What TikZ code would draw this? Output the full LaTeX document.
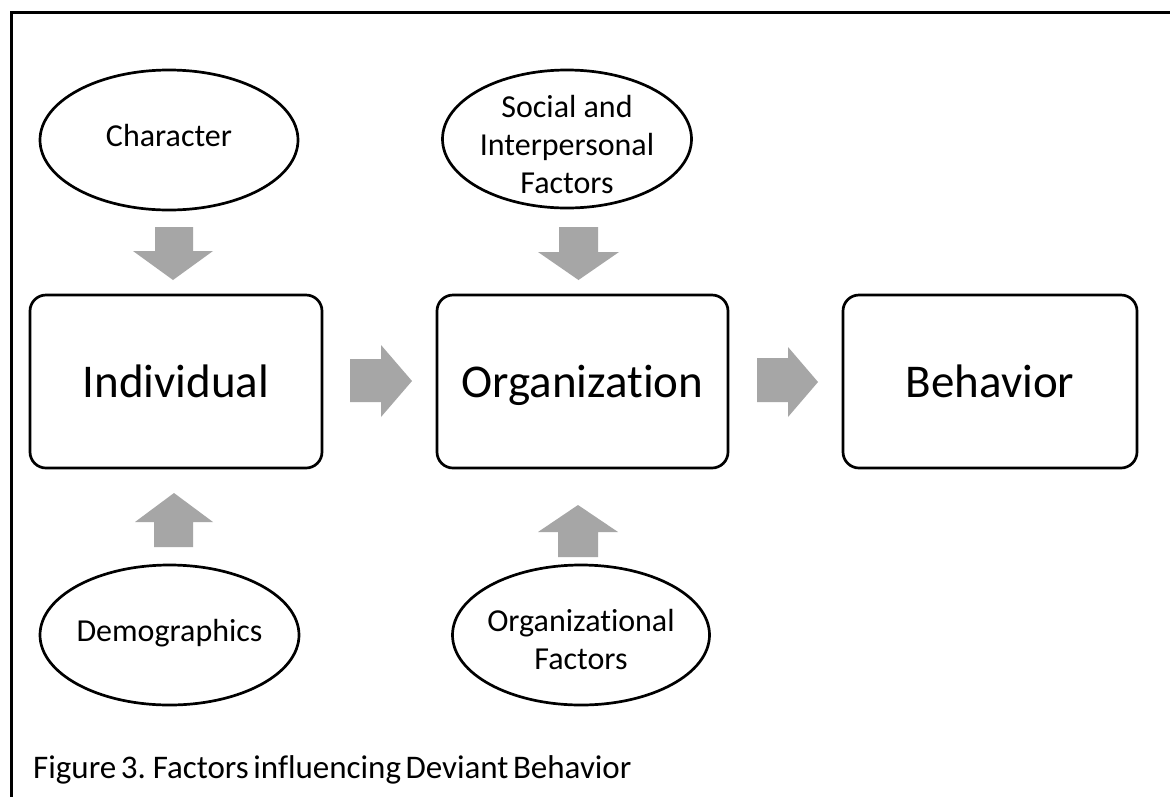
\documentclass[tikz,border=0pt]{standalone}
\usepackage{fontspec}
\setmainfont{Carlito}[Ligatures=NoCommon]
\usetikzlibrary{shapes.geometric}
\definecolor{arrowgray}{RGB}{166,166,166}
\tikzset{
  blockbox/.style={draw, line width=2.7pt, rectangle, rounded corners=16pt, minimum width=292pt, minimum height=173pt, inner sep=0pt, text height=32pt, text depth=0pt, font=\fontsize{47}{56}\selectfont},
  factor/.style={draw, line width=2.7pt, ellipse, inner sep=0pt},
  factortext/.style={align=center, inner sep=0pt, font=\fontsize{32}{38}\selectfont},
  arrowfill/.style={fill=arrowgray, draw=none},
  frameline/.style={line width=3pt}
}
\begin{document}
\begin{tikzpicture}[x=1pt, y=-1pt]
\useasboundingbox (0,0) rectangle (1170,796);
\fill[white] (0,0) rectangle (1170,796);
% outer frame (right and bottom sides lie outside)
\coordinate (fbl) at (11,800);
\coordinate (ftl) at (11,12);
\coordinate (ftr) at (1175,12);
\draw[frameline] (fbl) -- (ftl) -- (ftr);

% main boxes
\node[blockbox] (ind) at (176,381.5) {Individual};
\node[blockbox, minimum width=291pt] (org) at (582.5,381.5) {Organization};
\node[blockbox, minimum width=294pt] (beh) at (990,381.5) {Behavior};

% factor ellipses
\node[factor, minimum width=258pt, minimum height=140pt] (char) at (169,140) {};
\node[factortext] (chart) at ([yshift=4pt]char.center) {Character};
\node[factor, minimum width=249pt, minimum height=138pt] (soc) at (567,139) {};
\node[factortext] (soct) at ([yshift=-6pt]soc.center) {Social and\\Interpersonal\\Factors};
\node[factor, minimum width=259pt, minimum height=140pt] (demo) at (169.5,635) {};
\node[factortext] (demot) at ([yshift=2pt]demo.center) {Demographics};
\node[factor, minimum width=257pt, minimum height=140pt] (orgf) at (581,635) {};
\node[factortext] (orgft) at ([yshift=-4pt]orgf.center) {Organizational\\Factors};

% block arrows: down
\fill[arrowfill] (155,227) -- (193,227) -- (193,251) -- (213,251) -- (173,280) -- (133,251) -- (155,251) -- cycle;
\fill[arrowfill] (559,227) -- (598,227) -- (598,252) -- (619,252) -- (578.5,280) -- (538,252) -- (559,252) -- cycle;
% block arrows: up
\fill[arrowfill] (154,547) -- (193,547) -- (193,522) -- (213,522) -- (174,493) -- (135,522) -- (154,522) -- cycle;
\fill[arrowfill] (558,557) -- (598,557) -- (598,532) -- (618,532) -- (578,505) -- (538,532) -- (558,532) -- cycle;
% block arrows: right
\fill[arrowfill] (350,359) -- (381,359) -- (381,345) -- (412,381) -- (381,417) -- (381,402) -- (350,402) -- cycle;
\fill[arrowfill] (757,358) -- (788,358) -- (788,347) -- (818,382) -- (788,417) -- (788,402) -- (757,402) -- cycle;

% caption
\node[anchor=base west, inner sep=0pt, font=\fontsize{33}{40}\selectfont] (cap) at (33,778) {\spaceskip=4.5pt plus 1pt minus 1pt Figure 3. Factors influencing Deviant Behavior};
\end{tikzpicture}
\end{document}
